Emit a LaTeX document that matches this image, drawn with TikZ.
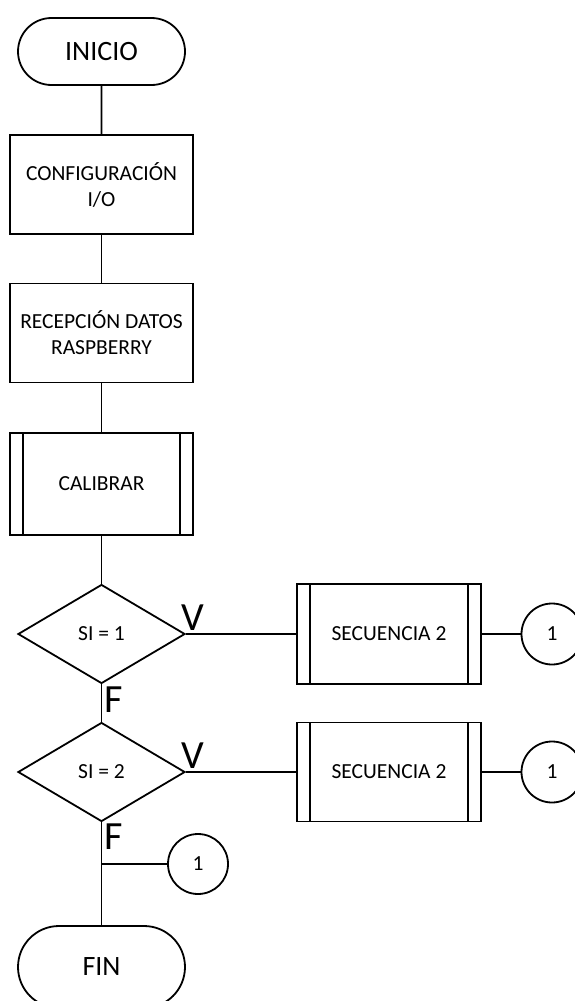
\documentclass[tikz,border=0pt]{standalone}
\usepackage{fontspec}
\setmainfont{Carlito}
\usetikzlibrary{shapes.geometric, shapes.misc}

\newcommand\boxtxt{\fontsize{21.5}{26}\selectfont}

\begin{document}
\begin{tikzpicture}[x=1pt, y=-1pt, line width=1.8pt,
  term/.style={draw, rounded rectangle, minimum width=167pt, inner sep=0pt, font=\fontsize{28}{32}\selectfont},
  proc/.style={draw, rectangle, minimum width=183pt, minimum height=99pt, inner sep=0pt, align=center, font=\boxtxt},
  sub/.style={proc, path picture={
      \draw ([xshift=13pt]path picture bounding box.north west) -- ([xshift=13pt]path picture bounding box.south west)
            ([xshift=-13pt]path picture bounding box.north east) -- ([xshift=-13pt]path picture bounding box.south east);}},
  dec/.style={draw, diamond, minimum width=167pt, minimum height=99pt, aspect=1.69, inner sep=0pt, font=\boxtxt},
  conn/.style={draw, circle, minimum size=61pt, inner sep=0pt, font=\boxtxt},
  vf/.style={inner sep=0pt, font=\fontsize{40}{48}\selectfont}]
\useasboundingbox (0,0) rectangle (574,1001);

\node[term, minimum height=67pt] (inicio) at (101.5,51.5) {INICIO};
\node[proc] (config) at (101.5,184.5) {CONFIGURACIÓN\\I/O};
\node[proc] (recep) at (101.5,333) {RECEPCIÓN DATOS\\RASPBERRY};
\node[sub, minimum height=102pt] (calib) at (101.5,484) {CALIBRAR};
\node[dec] (si1) at (101.5,634) {SI = 1};
\node[sub, minimum width=184pt, minimum height=100pt] (sec1) at (389,634) {SECUENCIA 2};
\node[conn] (c1) at (552,634) {1};
\node[dec] (si2) at (101.5,772) {SI = 2};
\node[sub, minimum width=184pt] (sec2) at (389,772) {SECUENCIA 2};
\node[conn] (c2) at (552,772) {1};
\coordinate (j) at (101.5,864);
\node[conn, minimum size=60pt] (c3) at (198,864) {1};
\node[term, minimum height=82pt] (fin) at (101.5,967) {FIN};

\draw (inicio) -- (config);
\draw (config) -- (recep);
\draw (recep) -- (calib);
\draw (calib) -- (si1);
\draw (si1.east) -- (sec1) node[vf, pos=0, anchor=south west, xshift=-5pt, yshift=3pt]{V};
\draw (sec1) -- (c1);
\draw (si1.south) -- (si2.north) node[vf, pos=0, anchor=north west, xshift=2.5pt, yshift=-2pt]{F};
\draw (si2.east) -- (sec2) node[vf, pos=0, anchor=south west, xshift=-5pt, yshift=3pt]{V};
\draw (sec2) -- (c2);
\draw (si2.south) -- (fin.north) node[vf, pos=0, anchor=north west, xshift=2.5pt, yshift=-1pt]{F};
\draw (j) -- (c3);
\end{tikzpicture}
\end{document}
